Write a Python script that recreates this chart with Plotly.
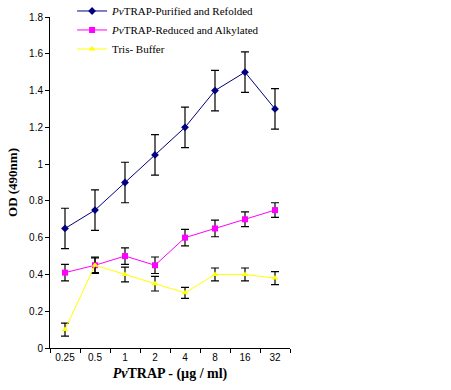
import plotly.graph_objects as go

categories = ["0.25", "0.5", "1", "2", "4", "8", "16", "32"]
purified = [0.65, 0.75, 0.90, 1.05, 1.20, 1.40, 1.50, 1.30]
purified_err = [0.11, 0.11, 0.11, 0.11, 0.11, 0.11, 0.11, 0.11]
reduced = [0.41, 0.45, 0.50, 0.45, 0.60, 0.65, 0.70, 0.75]
reduced_err = [0.045, 0.045, 0.045, 0.045, 0.045, 0.045, 0.04, 0.04]
tris = [0.10, 0.45, 0.40, 0.35, 0.30, 0.40, 0.40, 0.38]
tris_err = [0.035, 0.04, 0.04, 0.04, 0.03, 0.035, 0.035, 0.035]

names = ["<i>Pv</i>TRAP-Purified and Refolded", "<i>Pv</i>TRAP-Reduced and Alkylated", "Tris- Buffer"]
colors = ["#000080", "#FF00FF", "#FFFF00"]
symbols = ["diamond", "square", "triangle-up"]

SERIF = "Liberation Serif"

fig = go.Figure()
for name, vals, errs, col, sym in zip(names, [purified, reduced, tris], [purified_err, reduced_err, tris_err], colors, symbols):
    fig.add_trace(go.Scatter(
        x=categories, y=vals, name=name, mode="lines+markers",
        line=dict(color=col, width=1),
        marker=dict(color=col, symbol=sym, size=6),
        error_y=dict(type="data", array=errs, visible=True, color="black", thickness=1.2, width=4),
    ))

fig.update_layout(
    width=451, height=390,
    margin=dict(l=50, r=161, t=17, b=42, autoexpand=False),
    paper_bgcolor="white", plot_bgcolor="white",
    font=dict(family="Liberation Sans", size=10, color="black"),
    showlegend=True,
    legend=dict(x=0.092, y=1.062, xanchor="left", yanchor="top",
                font=dict(family=SERIF, size=11, color="black"),
                bgcolor="rgba(0,0,0,0)", tracegroupgap=0, itemwidth=30),
    xaxis=dict(type="category", range=[-0.5, 7.5], showline=True, linecolor="black", linewidth=1,
               ticks="outside", tickson="boundaries", ticklen=4, tickcolor="black",
               showgrid=False, zeroline=False, automargin=False,
               title=dict(text="<b><i>Pv</i>TRAP - (µg / ml)</b>",
                          font=dict(family=SERIF, size=14), standoff=6)),
    yaxis=dict(range=[0, 1.8], dtick=0.2, showline=True, linecolor="black", linewidth=1,
               ticks="outside", ticklen=4, tickcolor="black", showgrid=False, zeroline=False,
               automargin=False,
               title=dict(text="<b>OD (490nm)</b>",
                          font=dict(family=SERIF, size=13), standoff=8)),
)

fig.write_html("out.html", config={"displayModeBar": False},
               post_script="document.body.style.margin='0';")
